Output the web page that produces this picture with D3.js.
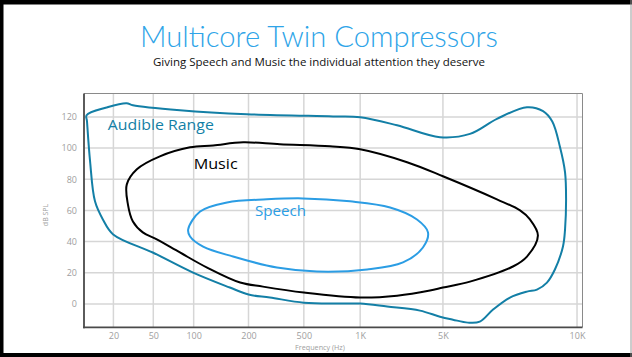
<!DOCTYPE html>
<html>
<head>
<meta charset="utf-8">
<script src="https://cdn.jsdelivr.net/npm/d3@7/dist/d3.min.js"></script>
<style>
  html, body { margin: 0; padding: 0; background: #fff; }
  svg { display: block; }
</style>
</head>
<body>
<svg id="chart" width="632" height="357"></svg>
<script>
// Frequency axis ticks (Hz) and their labels
const freqTicks = [20, 50, 100, 200, 500, 1000, 5000, 10000];
const freqLabels = ["20", "50", "100", "200", "500", "1K", "5K", "10K"];
// Level axis ticks (dB SPL)
const dbTicks = [0, 20, 40, 60, 80, 100, 120];

// Outline of the audible range: [frequency Hz, level dB SPL]
const audibleRange = [
  [10.8, 121.1], [17.1, 126.0], [27, 128.8], [31.3, 127.5], [79, 124.3],
  [196, 121.7], [716, 120.3], [1000, 119.8], [2050, 114.6], [4720, 107.0],
  [5750, 109.1], [6610, 118.7], [7720, 126.2], [8390, 123.7], [8800, 117],
  [9160, 100.5], [9400, 84.4], [9450, 67.1], [9400, 47.8], [9300, 36.9],
  [8920, 22.1], [8560, 13.7], [8130, 9.2], [7720, 7.9], [7070, 4.1],
  [6480, -3.6], [6050, -11.4], [5690, -12.0], [5265, -10.1], [4720, -8.2],
  [3200, -4.3], [1690, -1.7], [1000, 0.2], [752, 0.2], [500, 0.8],
  [285, 4.1], [200, 6.0], [158, 10.5], [99, 20.1], [49.4, 33.0],
  [19.9, 44.6], [15.7, 54.2], [13.1, 65.8], [11.7, 91.5], [10.9, 117.2]
];

// Outline of the music region
const musicRange = [
  [27.2, 76.7], [27.9, 63.9], [31.3, 52.9], [39.3, 45.9], [53.1, 41.4],
  [79, 33.0], [118.5, 23.3], [180, 13.7], [254, 11.1], [500, 7.3],
  [1000, 4.1], [2050, 5.3], [3885, 8.6], [5000, 10.5], [5750, 14.3],
  [7180, 24.0], [7720, 30.4], [8170, 43.9], [7840, 54.2], [7450, 60.0],
  [6610, 67.1], [5000, 81.9], [2490, 90.9], [1000, 99.2], [690, 101.1],
  [336, 102.4], [187, 103.7], [128, 101.7], [94, 100.5], [56, 94.7],
  [34.3, 86.4]
];

// Outline of the speech region
const speechRange = [
  [91, 47.8], [108.5, 59.3], [152.5, 65.1], [271, 67.1], [492, 67.7],
  [883, 65.8], [1790, 61.9], [3020, 54.2], [3740, 45.9], [3390, 36.2],
  [2300, 26.6], [1145, 22.1], [587, 20.8], [320, 23.3], [164.5, 30.4],
  [112.7, 36.8], [94, 43.3]
];

// Region labels: [text, frequency Hz, level dB SPL]
const regionLabels = [
  ["Audible Range", 17.6, 111.6],
  ["Music", 100, 86.4],
  ["Speech", 223, 56.1]
];

const W = 632, H = 357;
const plot = { left: 84, right: 582.5, top: 93.5, bottom: 327.3 };
const colors = {
  audible: "#137fa6",
  music: "#000000",
  speech: "#2b9de4",
  title: "#2ea4e8",
  tick: "#9e9e9e",
  grid: "#d6d6d6"
};

const svg = d3.select("#chart");

// Slide border
svg.append("rect").attr("x", 0).attr("y", 0).attr("width", W).attr("height", H).attr("fill", "#fff");
svg.append("rect").attr("x", 0).attr("y", 0).attr("width", W).attr("height", 4.5).attr("fill", "#000");
svg.append("rect").attr("x", 0).attr("y", 0).attr("width", 3.5).attr("height", H).attr("fill", "#000");
svg.append("rect").attr("x", 0).attr("y", H - 4).attr("width", W).attr("height", 4).attr("fill", "#000");
svg.append("line").attr("x1", W - 1).attr("x2", W - 1).attr("y1", 0).attr("y2", H)
  .attr("stroke", "#9a9a9a").attr("stroke-width", 1);

// Title and subtitle
svg.append("text")
  .attr("x", 319).attr("y", 47)
  .attr("text-anchor", "middle")
  .attr("font-family", "Lato, 'Open Sans', sans-serif")
  .attr("font-weight", 300)
  .attr("font-size", 29)
  .attr("fill", colors.title)
  .attr("textLength", 358).attr("lengthAdjust", "spacingAndGlyphs")
  .text("Multicore Twin Compressors");

svg.append("text")
  .attr("x", 319).attr("y", 66)
  .attr("text-anchor", "middle")
  .attr("font-family", "'Open Sans', Lato, sans-serif")
  .attr("font-size", 11.5)
  .attr("fill", "#111")
  .attr("textLength", 332).attr("lengthAdjust", "spacingAndGlyphs")
  .text("Giving Speech and Music the individual attention they deserve");

// Scales: the frequency axis uses a piecewise log mapping between its tick stops
const plotW = plot.right - plot.left;
const tickFractions = [0.059, 0.139, 0.22, 0.330, 0.441, 0.554, 0.720, 0.989];
const x = d3.scaleLog()
  .domain(freqTicks)
  .range(tickFractions.map(f => plot.left + f * plotW));
const y = d3.scaleLinear().domain([-15, 135]).range([plot.bottom, plot.top]);

// Grid
const grid = svg.append("g");
grid.selectAll("line.v").data(freqTicks).join("line")
  .attr("x1", d => x(d)).attr("x2", d => x(d))
  .attr("y1", plot.top).attr("y2", plot.bottom)
  .attr("stroke", colors.grid).attr("stroke-width", 1.5);
grid.selectAll("line.h").data(dbTicks).join("line")
  .attr("x1", plot.left).attr("x2", plot.right)
  .attr("y1", d => y(d)).attr("y2", d => y(d))
  .attr("stroke", colors.grid).attr("stroke-width", 1.5);

// Plot frame: light top/right, dark left/bottom
svg.append("line").attr("x1", plot.left).attr("x2", plot.right).attr("y1", plot.top).attr("y2", plot.top)
  .attr("stroke", "#8a8a8a").attr("stroke-width", 1);
svg.append("line").attr("x1", plot.right).attr("x2", plot.right).attr("y1", plot.top).attr("y2", plot.bottom)
  .attr("stroke", "#8a8a8a").attr("stroke-width", 1);

// Axes
const xAxis = d3.axisBottom(x).tickValues(freqTicks)
  .tickFormat((d, i) => freqLabels[i]).tickSize(0).tickPadding(5.5);
const gx = svg.append("g").attr("transform", `translate(0,${plot.bottom})`).call(xAxis);
const yAxis = d3.axisLeft(y).tickValues(dbTicks).tickSize(0).tickPadding(7);
const gy = svg.append("g").attr("transform", `translate(${plot.left},0)`).call(yAxis);
[gx, gy].forEach(g => {
  g.select(".domain").attr("stroke", "#4a4a4a").attr("stroke-width", 1.8);
  g.selectAll("text")
    .attr("fill", colors.tick)
    .attr("font-family", "'Open Sans', sans-serif")
    .attr("font-size", 9);
});
gy.select(".domain").attr("d", `M0,${plot.top}V${plot.bottom + 0.9}`);
gx.select(".domain").attr("d", `M${plot.left - 0.9},0H${plot.right}`);

// Axis titles
svg.append("text")
  .attr("x", 320).attr("y", 349.5)
  .attr("text-anchor", "middle")
  .attr("font-family", "'Open Sans', sans-serif")
  .attr("font-size", 7.2)
  .attr("fill", colors.tick)
  .text("Frequency (Hz)");
svg.append("text")
  .attr("transform", "translate(48,215) rotate(-90)")
  .attr("text-anchor", "middle")
  .attr("font-family", "'Open Sans', sans-serif")
  .attr("font-size", 7)
  .attr("fill", colors.tick)
  .text("dB SPL");

// Region outlines
const outline = d3.line()
  .x(d => x(d[0])).y(d => y(d[1]))
  .curve(d3.curveCatmullRomClosed.alpha(0.5));

const regions = [
  { pts: audibleRange, color: colors.audible },
  { pts: musicRange, color: colors.music },
  { pts: speechRange, color: colors.speech }
];
svg.append("g").selectAll("path").data(regions).join("path")
  .attr("d", d => outline(d.pts))
  .attr("fill", "none")
  .attr("stroke", d => d.color)
  .attr("stroke-width", 2)
  .attr("stroke-linejoin", "round");

// Region labels
const labelColors = [colors.audible, "#000", colors.speech];
const labelWidths = [106, 44, 51];
svg.append("g").selectAll("text").data(regionLabels).join("text")
  .attr("x", d => x(d[1])).attr("y", d => y(d[2]))
  .attr("font-family", "'Open Sans', sans-serif")
  .attr("font-size", 15)
  .attr("fill", (d, i) => labelColors[i])
  .attr("textLength", (d, i) => labelWidths[i]).attr("lengthAdjust", "spacingAndGlyphs")
  .text(d => d[0]);
</script>
</body>
</html>
